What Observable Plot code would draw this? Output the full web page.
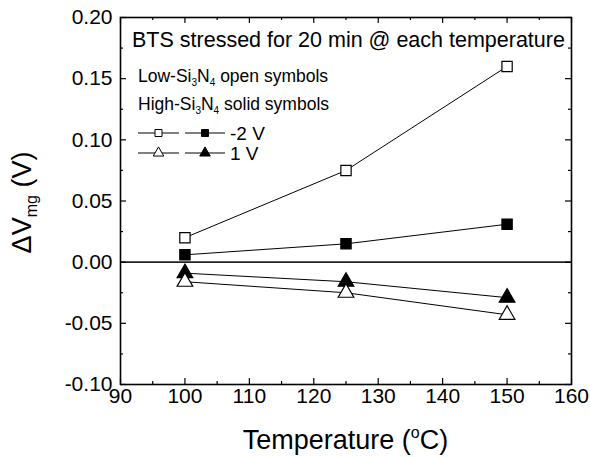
<!DOCTYPE html>
<html>
<head>
<meta charset="utf-8">
<script src="https://cdn.jsdelivr.net/npm/d3@7"></script>
<script src="https://cdn.jsdelivr.net/npm/@observablehq/plot@0.6"></script>
<style>
  html, body { margin: 0; padding: 0; background: #fff; }
  #chart svg { font-family: "Liberation Sans", Arial, Helvetica, sans-serif; overflow: visible; }
</style>
</head>
<body>
<div id="chart"></div>
<script>
// Stress temperatures (°C)
const temperatures = [100, 125, 150];

// ΔVmg (V) after 20 min bias-temperature stress
const lowSiN_minus2V  = [0.020, 0.075, 0.160];
const highSiN_minus2V = [0.006, 0.015, 0.031];
const lowSiN_plus1V   = [-0.016, -0.025, -0.043];
const highSiN_plus1V  = [-0.009, -0.016, -0.029];

// Axis ticks
const xTicks = [90, 100, 110, 120, 130, 140, 150, 160];
const xMinorTicks = [95, 105, 115, 125, 135, 145, 155];
const yTicks = [-0.10, -0.05, 0.00, 0.05, 0.10, 0.15, 0.20];
const yMinorTicks = [-0.075, -0.025, 0.025, 0.075, 0.125, 0.175];

// Text
const titleNote = "BTS stressed for 20 min @ each temperature";
const biasLabels = ["-2 V", "1 V"];

// Long-form table: one row per measured point
const seriesDefs = [
  {key: "low-2",  film: "low",  shape: "square",   values: lowSiN_minus2V},
  {key: "high-2", film: "high", shape: "square",   values: highSiN_minus2V},
  {key: "high1",  film: "high", shape: "triangle", values: highSiN_plus1V},
  {key: "low1",   film: "low",  shape: "triangle", values: lowSiN_plus1V}
];
const rows = seriesDefs.flatMap(s =>
  temperatures.map((t, i) => ({series: s.key, film: s.film, shape: s.shape, T: t, dV: s.values[i]}))
);

const W = 590, H = 457;
const mTop = 17, mRight = 19, mBottom = 73, mLeft = 120;
const fw = W - mLeft - mRight, fh = H - mTop - mBottom;
const major = 6, minor = 3;
const tickStyle = {stroke: "black", strokeWidth: 1.2};
const fmtY = d => d3.format(".2f")(d).replace("\u2212", "-");

const plot = Plot.plot({
  width: W,
  height: H,
  marginTop: mTop, marginRight: mRight, marginBottom: mBottom, marginLeft: mLeft,
  style: {background: "white", color: "black"},
  x: {domain: [90, 160], label: null},
  y: {domain: [-0.10, 0.20], label: null},
  symbol: {domain: ["square", "triangle"], range: ["square", "triangle"]},
  marks: [
    // zero reference line
    Plot.ruleY([0], {stroke: "#222", strokeWidth: 1.6}),
    // connecting lines
    Plot.line(rows, {x: "T", y: "dV", z: "series", stroke: "black", strokeWidth: 1}),
    // symbols: open = Low-Si3N4, solid = High-Si3N4
    Plot.dot(rows, {
      x: "T", y: "dV", symbol: "shape", r: 5.8,
      fill: d => d.film === "low" ? "white" : "black",
      stroke: "black", strokeWidth: 1.2
    }),
    // inward ticks on all four sides
    Plot.ruleX(xTicks, {x: d => d, insetTop: fh - major, ...tickStyle}),
    Plot.ruleX(xMinorTicks, {x: d => d, insetTop: fh - minor, ...tickStyle}),
    Plot.ruleX(xTicks, {x: d => d, insetBottom: fh - major, ...tickStyle}),
    Plot.ruleX(xMinorTicks, {x: d => d, insetBottom: fh - minor, ...tickStyle}),
    Plot.ruleY(yTicks, {y: d => d, insetRight: fw - major, ...tickStyle}),
    Plot.ruleY(yMinorTicks, {y: d => d, insetRight: fw - minor, ...tickStyle}),
    Plot.ruleY(yTicks, {y: d => d, insetLeft: fw - major, ...tickStyle}),
    Plot.ruleY(yMinorTicks, {y: d => d, insetLeft: fw - minor, ...tickStyle}),
    // tick labels
    Plot.axisX(xTicks, {tickSize: 0, tickPadding: 4, fontSize: 21, label: null}),
    Plot.axisY(yTicks, {tickSize: 0, tickPadding: 8, fontSize: 21, label: null, tickFormat: fmtY}),
    Plot.frame({stroke: "black", strokeWidth: 1.6})
  ]
});

document.getElementById("chart").appendChild(plot);

// Titles and in-plot legend (needs sub/superscripts, so built as SVG text with tspans)
const svg = d3.select(plot);
const g = svg.append("g").attr("fill", "black").attr("text-anchor", "start");

// x-axis title
const xt = g.append("text").attr("x", mLeft + fw / 2).attr("y", 449)
  .attr("text-anchor", "middle").attr("font-size", 27);
xt.append("tspan").text("Temperature (");
xt.append("tspan").attr("font-size", 16).attr("dy", -11).text("o");
xt.append("tspan").attr("dy", 11).text("C)");

// y-axis title
const yt = g.append("text").attr("transform", `translate(31,${mTop + fh / 2 + 2}) rotate(-90)`)
  .attr("text-anchor", "middle").attr("font-size", 27);
yt.append("tspan").text("\u0394V");
yt.append("tspan").attr("font-size", 16).attr("dy", 6).text("mg");
yt.append("tspan").attr("dy", -6).text(" (V)");

// legend block
g.append("text").attr("x", mLeft + 12).attr("y", mTop + 30).attr("font-size", 21.5).text(titleNote);

function filmLine(y, name, desc) {
  const t = g.append("text").attr("x", mLeft + 18).attr("y", y).attr("font-size", 17.5);
  t.append("tspan").text(name + "-Si");
  t.append("tspan").attr("font-size", 10).attr("dy", 4).text("3");
  t.append("tspan").attr("dy", -4).text("N");
  t.append("tspan").attr("font-size", 10).attr("dy", 4).text("4");
  t.append("tspan").attr("dy", -4).text(" " + desc);
}
filmLine(mTop + 65, "Low", "open symbols");
filmLine(mTop + 93, "High", "solid symbols");

const legendShapes = [d3.symbolSquare, d3.symbolTriangle];
const legendSizes = [49, 48];
biasLabels.forEach((lab, i) => {
  const y = mTop + 116 + i * 20;
  [[18, 59, false], [65, 105, true]].forEach(([x0, x1, solid]) => {
    g.append("line").attr("x1", mLeft + x0).attr("x2", mLeft + x1)
      .attr("y1", y).attr("y2", y).attr("stroke", "black").attr("stroke-width", 1);
    g.append("path")
      .attr("d", d3.symbol(legendShapes[i], legendSizes[i])())
      .attr("transform", `translate(${mLeft + (x0 + x1) / 2},${y})`)
      .attr("fill", solid ? "black" : "white").attr("stroke", "black").attr("stroke-width", 1);
  });
  g.append("text").attr("x", mLeft + 110).attr("y", y + 7).attr("font-size", 19).text(lab);
});
</script>
</body>
</html>
